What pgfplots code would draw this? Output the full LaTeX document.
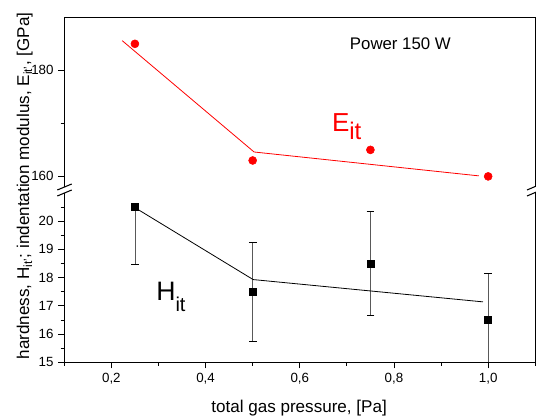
\documentclass[border=0pt]{standalone}
\usepackage{fontspec}
\setmainfont{Liberation Sans}
\usepackage{pgfplots}
\pgfplotsset{compat=1.18}
\pgfplotsset{
  common/.style={
    scale only axis, width=353.25pt, xmin=0.1, xmax=1.1, anchor=south west,
    separate axis lines, axis line style={draw=none},
    tick align=outside, xtick pos=bottom, ytick pos=left,
    major tick length=4.5pt, minor tick length=2.75pt,
    every tick/.style={black, line width=0.6pt},
    tick label style={font=\fontsize{10}{12}\selectfont},
    /pgf/number format/assume math mode=true,
  }
}
\begin{document}
\begin{tikzpicture}
\path[use as bounding box] (0pt,0pt) rectangle (402pt,312pt);
% upper panel: indentation modulus
\begin{axis}[common, at={(48.2pt,171.75pt)}, height=127.25pt,
  ymin=158, ymax=190, ytick={160,180}, minor ytick={170}, xtick=\empty]
\addplot[red, line width=0.6pt] coordinates {(0.223,185.6) (0.503,164.6) (0.98,160.1)};
\addplot[only marks, mark=*, mark size=3pt, red] coordinates {(0.25,185) (0.5,163) (0.75,165) (1.0,160)};
\end{axis}
% lower panel: hardness
\begin{axis}[common, at={(48.2pt,40.3pt)}, height=127pt,
  ymin=15, ymax=21, ytick={15,16,17,18,19,20}, minor ytick={15.5,16.5,17.5,18.5,19.5,20.5},
  xtick={0.2,0.4,0.6,0.8,1.0}, minor xtick={0.1,0.3,0.5,0.7,0.9,1.1},
  xticklabel style={/pgf/number format/.cd, use comma, fixed, fixed zerofill, precision=1}]
\addplot[draw=none, mark=none, forget plot,
  error bars/.cd, y dir=both, y explicit,
  error bar style={black!65, line width=0.6pt},
  error mark options={rotate=90, mark size=2.9pt, black, line width=0.6pt}]
  coordinates {(0.5,17.5) +- (0,1.75) (0.75,18.5) +- (0,1.85) (1.0,16.5) +- (0,1.65)};
\addplot[draw=none, mark=none, forget plot,
  error bars/.cd, y dir=minus, y explicit,
  error bar style={black!65, line width=0.6pt},
  error mark options={rotate=90, mark size=2.9pt, black, line width=0.6pt}]
  coordinates {(0.25,20.5) +- (0,2.05)};
\addplot[black, line width=0.6pt] coordinates {(0.246,20.52) (0.501,17.93) (0.989,17.14)};
\addplot[only marks, mark=square*, mark size=2.6pt, black] coordinates {(0.25,20.5) (0.5,17.5) (0.75,18.5) (1.0,16.5)};
\end{axis}
% frames
\draw[line width=0.9pt] (48.2pt,171.75pt) -- (48.2pt,299pt) -- (401.45pt,299pt) -- (401.45pt,171.75pt);
\draw[line width=0.9pt] (48.2pt,167.3pt) -- (48.2pt,40.3pt) -- (401.45pt,40.3pt) -- (401.45pt,167.3pt);
% break marks
\draw[line width=0.8pt] (43pt,169.5pt) -- (53.8pt,174pt);
\draw[line width=0.8pt] (43pt,165pt) -- (53.8pt,169.5pt);
\draw[line width=0.8pt] (395.3pt,169.5pt) -- (405.8pt,174pt);
\draw[line width=0.8pt] (395.3pt,165pt) -- (405.8pt,169.5pt);
% texts
\node[anchor=base, inner sep=0pt] at (300.3pt,275pt) {\fontsize{12.6}{14}\selectfont Power 150 W};
\node[anchor=base, inner sep=0pt] at (224.3pt,2.5pt) {\fontsize{12.8}{14}\selectfont total gas pressure, [Pa]};
\node[anchor=base, inner sep=0pt, rotate=90] at (21.75pt,172.5pt) {\fontsize{12.8}{14}\selectfont hardness, H\textsubscript{it'}; indentation modulus, E\textsubscript{it'}, [GPa]};
\node[anchor=base west, inner sep=0pt, red] at (248.8pt,213.2pt) {\fontsize{19.5}{20}\selectfont E\raisebox{-5.5pt}{\fontsize{18}{18}\selectfont it}};
\node[anchor=base west, inner sep=0pt] at (117pt,86.25pt) {\fontsize{20}{20}\selectfont H\raisebox{-8pt}{\fontsize{15}{15}\selectfont it}};
\end{tikzpicture}
\end{document}
